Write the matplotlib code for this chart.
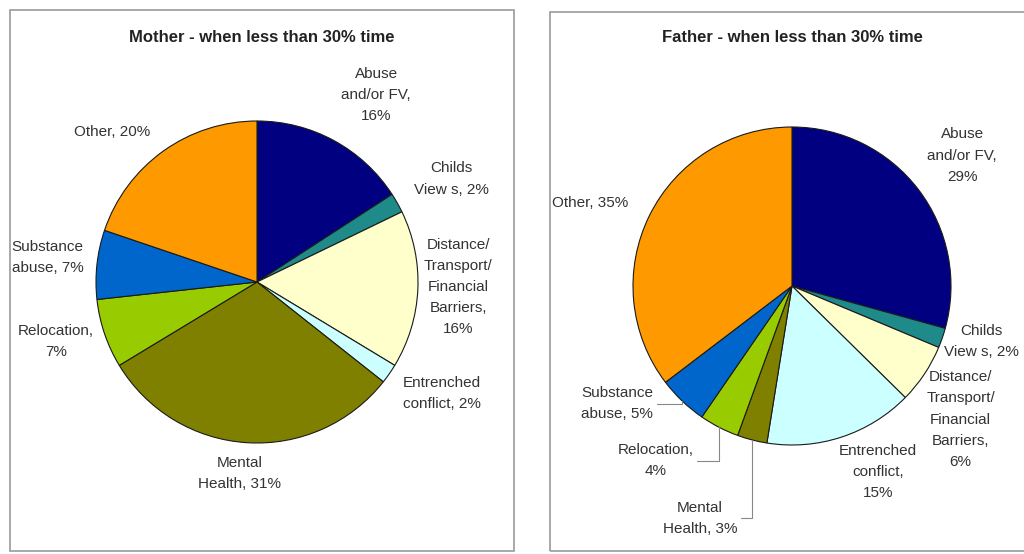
import numpy as np
import matplotlib.pyplot as plt
from matplotlib.patches import Rectangle

plt.rcParams['font.family'] = ['Liberation Sans', 'DejaVu Sans']

# data
categories = ["Abuse\nand/or FV", "Childs\nView s", "Distance/\nTransport/\nFinancial\nBarriers",
              "Entrenched\nconflict", "Mental\nHealth", "Relocation", "Substance\nabuse", "Other"]
mother_pct = [16, 2, 16, 2, 31, 7, 7, 20]
father_pct = [29, 2, 6, 15, 3, 4, 5, 35]
colors = ["#000080", "#1f8a8a", "#ffffcc", "#ccffff", "#808000", "#99cc00", "#0066cc", "#ff9900"]

# label text layout (how each label is broken into lines)
mother_labels = ["Abuse\nand/or FV,\n16%", "Childs\nView s, 2%", "Distance/\nTransport/\nFinancial\nBarriers,\n16%",
                 "Entrenched\nconflict, 2%", "Mental\nHealth, 31%", "Relocation,\n7%", "Substance\nabuse, 7%",
                 "Other, 20%"]
father_labels = ["Abuse\nand/or FV,\n29%", "Childs\nView s, 2%", "Distance/\nTransport/\nFinancial\nBarriers,\n6%",
                 "Entrenched\nconflict,\n15%", "Mental\nHealth, 3%", "Relocation,\n4%", "Substance\nabuse, 5%",
                 "Other, 35%"]

# label positions in units of pie radius
mother_pos = [(0.74, 1.16), (1.21, 0.64), (1.25, -0.03), (1.15, -0.69),
              (-0.11, -1.19), (-1.25, -0.37), (-1.30, 0.15), (-0.90, 0.93)]
father_pos = [(1.07, 0.82), (1.19, -0.35), (1.06, -0.84), (0.54, -1.17),
              (-0.58, -1.46), (-0.86, -1.10), (-1.10, -0.74), (-1.27, 0.52)]
father_leader = [False, False, False, False, True, True, True, False]

W, H = 1024, 554
fig = plt.figure(figsize=(W / 100, H / 100), dpi=100)

# panel frames
for x0, y0, x1, y1 in [(10, 10, 514, 551), (550, 12, 1030, 551)]:
    fig.patches.append(Rectangle((x0 / W, 1 - y1 / H), (x1 - x0) / W, (y1 - y0) / H,
                                 transform=fig.transFigure, fill=False,
                                 edgecolor="#9a9a9a", linewidth=1.2))

fig.text(262 / W, 1 - 38 / H, "Mother - when less than 30% time", ha="center", va="center",
         fontsize=12, fontweight="bold", color="#222222")
fig.text(792 / W, 1 - 38 / H, "Father - when less than 30% time", ha="center", va="center",
         fontsize=12, fontweight="bold", color="#222222")


def draw_pie(cx, cy, r, values, labels, positions, leaders=None):
    ax = fig.add_axes([(cx - r) / W, 1 - (cy + r) / H, 2 * r / W, 2 * r / H])
    wedges, _ = ax.pie(values, colors=colors, startangle=90, counterclock=False,
                       wedgeprops=dict(edgecolor="#1a1a1a", linewidth=0.8))
    ax.set_xlim(-1, 1)
    ax.set_ylim(-1, 1)
    ax.set_aspect("equal")
    ax.axis("off")
    for i, (w, lab, (dx, dy)) in enumerate(zip(wedges, labels, positions)):
        if leaders is not None and leaders[i]:
            mid = np.deg2rad((w.theta1 + w.theta2) / 2)
            ax.annotate(lab, xy=(np.cos(mid), np.sin(mid)), xytext=(dx, dy),
                        ha="center", va="center", fontsize=11, color="#333333",
                        linespacing=1.65, annotation_clip=False,
                        arrowprops=dict(arrowstyle="-", color="#888888", lw=0.8,
                                        connectionstyle="angle,angleA=0,angleB=90,rad=0",
                                        shrinkA=1, shrinkB=0))
        else:
            ax.text(dx, dy, lab, ha="center", va="center", fontsize=11,
                    color="#333333", linespacing=1.65)
    return ax


draw_pie(257, 282, 161, mother_pct, mother_labels, mother_pos)
draw_pie(792, 286, 159, father_pct, father_labels, father_pos, father_leader)

fig.savefig("out.png", dpi=100, facecolor="white")
